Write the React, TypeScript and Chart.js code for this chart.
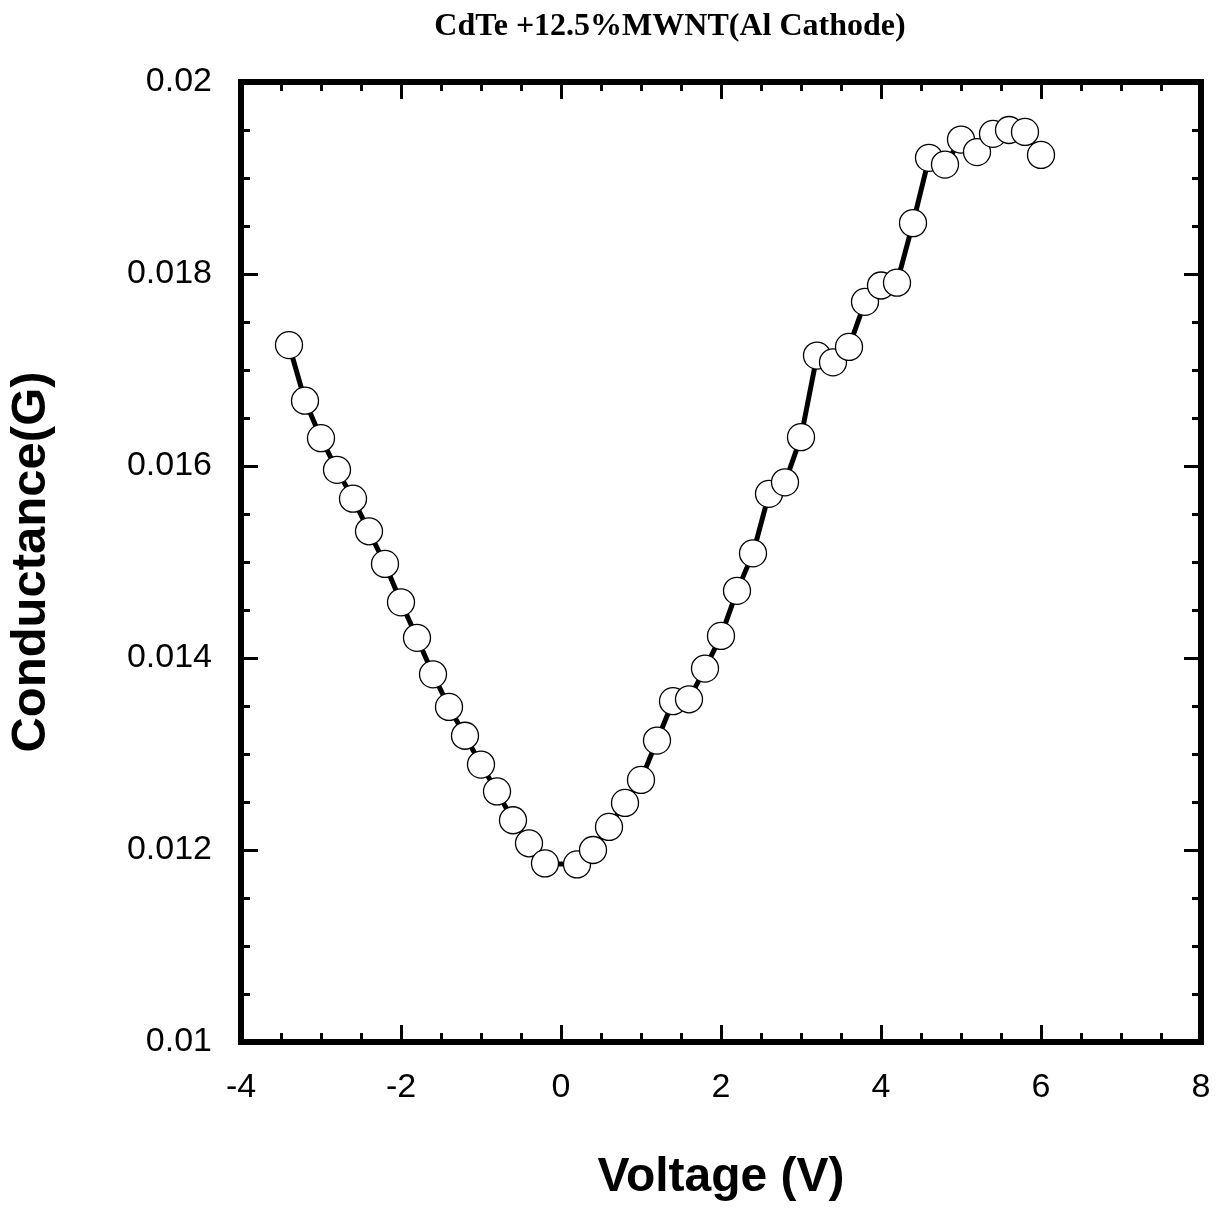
import React, { useEffect, useRef } from "react";
import { Chart, registerables } from "chart.js";

Chart.register(...registerables);

const CHART_TITLE = "CdTe +12.5%MWNT(Al Cathode)";
const X_TITLE = "Voltage (V)";
const Y_TITLE = "Conductance(G)";

const voltage = [
  -3.4, -3.2, -3.0, -2.8, -2.6, -2.4, -2.2, -2.0, -1.8, -1.6, -1.4, -1.2, -1.0, -0.8, -0.6, -0.4, -0.2,
  0.2, 0.4, 0.6, 0.8, 1.0, 1.2, 1.4, 1.6, 1.8, 2.0, 2.2, 2.4, 2.6, 2.8, 3.0, 3.2, 3.4, 3.6, 3.8, 4.0,
  4.2, 4.4, 4.6, 4.8, 5.0, 5.2, 5.4, 5.6, 5.8, 6.0,
];
const conductance = [
  0.01726, 0.01668, 0.01629, 0.01596, 0.01566, 0.01532, 0.01498, 0.01458, 0.01421, 0.01383, 0.01349,
  0.01319, 0.01289, 0.01261, 0.01231, 0.01207, 0.01186, 0.01185, 0.012, 0.01224, 0.01249, 0.01273,
  0.01314, 0.01355, 0.01357, 0.01389, 0.01423, 0.0147, 0.01509, 0.01571, 0.01583, 0.0163, 0.01715,
  0.01708, 0.01724, 0.01771, 0.01788, 0.01791, 0.01853, 0.01921, 0.01914, 0.0194, 0.01927, 0.01946,
  0.0195, 0.01948, 0.01924,
];

const X_TICKS = [-4, -2, 0, 2, 4, 6, 8];
const Y_TICKS = [0.01, 0.012, 0.014, 0.016, 0.018, 0.02];
const X_MINOR_STEP = 0.5;
const Y_MINOR_STEP = 0.0005;

const SANS = "Arial, 'Liberation Sans', sans-serif";
const SERIF = "'Times New Roman', 'Liberation Serif', serif";

const frameTicksPlugin = {
  id: "frameTicks",
  afterDatasetsDraw(chart: any) {
    const { ctx, chartArea } = chart;
    const { left, right, top, bottom } = chartArea;
    const xs = chart.scales.x;
    const ys = chart.scales.y;
    ctx.save();
    ctx.strokeStyle = "#000";
    ctx.lineCap = "butt";
    ctx.lineWidth = 3;
    const xMin = X_TICKS[0];
    const xMax = X_TICKS[X_TICKS.length - 1];
    const nx = Math.round((xMax - xMin) / X_MINOR_STEP);
    for (let i = 1; i < nx; i++) {
      const v = xMin + i * X_MINOR_STEP;
      const isMajor = X_TICKS.some((t) => Math.abs(t - v) < 1e-9);
      const len = isMajor ? 17 : 9;
      const px = Math.round(xs.getPixelForValue(v)) + 0.5;
      ctx.beginPath();
      ctx.moveTo(px, bottom);
      ctx.lineTo(px, bottom - len);
      ctx.moveTo(px, top);
      ctx.lineTo(px, top + len);
      ctx.stroke();
    }
    const yMin = Y_TICKS[0];
    const yMax = Y_TICKS[Y_TICKS.length - 1];
    const ny = Math.round((yMax - yMin) / Y_MINOR_STEP);
    for (let i = 1; i < ny; i++) {
      const v = yMin + i * Y_MINOR_STEP;
      const isMajor = Y_TICKS.some((t) => Math.abs(t - v) < 1e-9);
      const len = isMajor ? 17 : 9;
      const py = Math.round(ys.getPixelForValue(v)) + 0.5;
      ctx.beginPath();
      ctx.moveTo(left, py);
      ctx.lineTo(left + len, py);
      ctx.moveTo(right, py);
      ctx.lineTo(right - len, py);
      ctx.stroke();
    }
    ctx.lineWidth = 6;
    ctx.strokeRect(left, top, right - left, bottom - top);
    ctx.fillStyle = "#000";
    ctx.font = `bold 32px ${SERIF}`;
    ctx.textAlign = "center";
    ctx.textBaseline = "middle";
    ctx.fillText(CHART_TITLE, 670, 27);
    ctx.restore();
  },
};

export default function App() {
  const canvasRef = useRef<HTMLCanvasElement | null>(null);

  useEffect(() => {
    const canvas = canvasRef.current;
    if (!canvas) return;
    const chart = new Chart(canvas, {
      type: "scatter",
      data: {
        datasets: [
          {
            data: voltage.map((v, i) => ({ x: v, y: conductance[i] })),
            showLine: true,
            borderColor: "#000",
            borderWidth: 5,
            pointRadius: 13.5,
            pointHoverRadius: 13.5,
            pointBackgroundColor: "#fff",
            pointBorderColor: "#000",
            pointBorderWidth: 1.3,
          },
        ],
      },
      options: {
        responsive: false,
        animation: false,
        layout: { padding: { top: 82, right: 24, bottom: 0, left: 0 } },
        plugins: {
          legend: { display: false },
          title: { display: false },
          tooltip: { enabled: false },
        },
        scales: {
          x: {
            type: "linear",
            min: X_TICKS[0],
            max: X_TICKS[X_TICKS.length - 1],
            afterBuildTicks: (scale: any) => {
              scale.ticks = X_TICKS.map((v) => ({ value: v }));
            },
            afterFit: (scale: any) => {
              scale.height = 171;
              scale.paddingLeft = 0;
              scale.paddingRight = 0;
            },
            grid: { display: false, drawTicks: false },
            border: { display: false },
            ticks: {
              padding: 25,
              color: "#000",
              font: { family: SANS, size: 34 },
              maxRotation: 0,
              autoSkip: false,
              callback: (v: any) => String(v),
            },
            title: {
              display: true,
              text: X_TITLE,
              color: "#000",
              font: { family: SANS, size: 48, weight: "bold" },
              padding: { top: 0, bottom: 6 },
            },
          },
          y: {
            type: "linear",
            min: Y_TICKS[0],
            max: Y_TICKS[Y_TICKS.length - 1],
            afterBuildTicks: (scale: any) => {
              scale.ticks = Y_TICKS.map((v) => ({ value: v }));
            },
            afterFit: (scale: any) => {
              scale.width = 241;
              scale.paddingTop = 0;
              scale.paddingBottom = 0;
            },
            grid: { display: false, drawTicks: false },
            border: { display: false },
            ticks: {
              padding: 29,
              color: "#000",
              font: { family: SANS, size: 34 },
              autoSkip: false,
              callback: (v: any) => String(parseFloat(Number(v).toFixed(4))),
            },
            title: {
              display: true,
              text: Y_TITLE,
              color: "#000",
              font: { family: SANS, size: 49, weight: "bold" },
              padding: { top: 2, bottom: 0 },
            },
          },
        },
      },
      plugins: [frameTicksPlugin],
    });
    return () => chart.destroy();
  }, []);

  return (
    <div style={{ position: "absolute", left: 0, top: 0, width: 1225, height: 1213, background: "#fff" }}>
      <canvas ref={canvasRef} width={1225} height={1213} style={{ display: "block", width: 1225, height: 1213 }} />
    </div>
  );
}
